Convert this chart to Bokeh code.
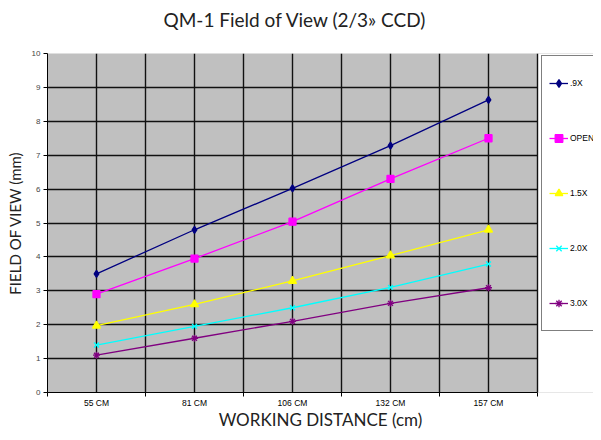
from bokeh.plotting import figure
from bokeh.models import (Range1d, FixedTicker, Legend, LegendItem, BoxAnnotation, Span, Title)
from bokeh.embed import file_html
from bokeh.resources import INLINE

categories = ["55 CM", "81 CM", "106 CM", "132 CM", "157 CM"]
series_names = [".9X", "OPEN", "1.5X", "2.0X", "3.0X"]
s_09x = [3.5, 4.8, 6.02, 7.28, 8.63]
s_open = [2.9, 3.95, 5.04, 6.3, 7.5]
s_15x = [1.97, 2.6, 3.29, 4.04, 4.8]
s_20x = [1.4, 1.95, 2.5, 3.1, 3.79]
s_30x = [1.1, 1.6, 2.1, 2.63, 3.09]
y_ticks = list(range(0, 11))

series_values = [s_09x, s_open, s_15x, s_20x, s_30x]
colors = ["#000080", "#ff00ff", "#ffff00", "#00ffff", "#800080"]
markers = ["diamond", "square", "triangle", "x", "asterisk"]
msizes = [7, 7, 8, 7, 7]

n = len(categories)
xs = [i + 0.5 for i in range(n)]

W, H = 593, 432
LEFT, RIGHT_PLOT, TOP, BOTTOM = 47, 537, 52, 39
# the frame runs to the canvas edge so that the legend box is cut by it;
# the grey plot area itself spans the categories only
x_end = n * (W - LEFT) / (RIGHT_PLOT - LEFT)

p = figure(width=W, height=H, output_backend="svg", toolbar_location=None,
           x_range=Range1d(0, x_end), y_range=Range1d(0, 10),
           min_border_left=LEFT, min_border_right=0, min_border_top=TOP,
           min_border_bottom=BOTTOM, title="QM-1 Field of View (2/3\u00bb CCD)")
p.background_fill_color = "#c0c0c0"
p.border_fill_color = "white"
p.outline_line_color = None

p.title.align = "left"
p.title.offset = 116
p.title.text_font = "Lato"
p.title.text_font_size = "19px"
p.title.text_font_style = "normal"
p.title.text_color = "#222222"
# empty spacer between the title and the plot area
p.add_layout(Title(text=" ", text_font_size="5px"), "above")

# axes
xa = p.xaxis[0]
xa.bounds = (0, n)
xa.ticker = FixedTicker(ticks=xs, minor_ticks=[float(i) for i in range(n + 1)])
xa.major_label_overrides = {x: c for x, c in zip(xs, categories)}
xa.major_tick_out = 0
xa.major_tick_in = 0
xa.minor_tick_out = 4
xa.minor_tick_in = 0
xa.minor_tick_line_color = "black"
xa.axis_line_color = "black"
xa.major_label_text_font = "Liberation Sans"
xa.major_label_text_font_size = "8.5px"
xa.major_label_text_color = "#000000"
xa.major_label_standoff = 1
xa.axis_label = "WORKING DISTANCE (cm)"
xa.axis_label_text_font = "Lato"
xa.axis_label_text_font_size = "17px"
xa.axis_label_text_font_style = "normal"
xa.axis_label_text_color = "#222222"
xa.axis_label_standoff = -2

ya = p.yaxis[0]
ya.ticker = FixedTicker(ticks=y_ticks, minor_ticks=[])
ya.major_tick_out = 4
ya.major_tick_in = 0
ya.minor_tick_out = 0
ya.axis_line_color = "black"
ya.major_tick_line_color = "black"
ya.major_label_text_font = "Liberation Sans"
ya.major_label_text_font_size = "8px"
ya.major_label_standoff = 3
ya.axis_label = "FIELD OF VIEW (mm)"
ya.axis_label_text_font = "Lato"
ya.axis_label_text_font_size = "15px"
ya.axis_label_text_font_style = "normal"
ya.axis_label_text_color = "#222222"
ya.axis_label_standoff = 5

p.xgrid.ticker = FixedTicker(ticks=[i * 0.5 for i in range(2 * n)])
p.xgrid.grid_line_color = "#111111"
p.xgrid.grid_line_width = 1.4
p.ygrid.ticker = FixedTicker(ticks=y_ticks)
p.ygrid.grid_line_color = "#111111"
p.ygrid.grid_line_width = 1.4

# white area to the right of the plot area, and its right edge line
p.add_layout(BoxAnnotation(left=n, fill_color="white", fill_alpha=1,
                           line_color=None, level="underlay"), "center")
p.add_layout(Span(location=n, dimension="height", line_color="#111111",
                  line_width=1.4, level="underlay"), "center")

items = []
for name, vals, col, mk, ms in zip(series_names, series_values, colors, markers, msizes):
    r1 = p.line(xs, vals, line_color=col, line_width=1.3)
    r2 = p.scatter(xs, vals, marker=mk, size=ms, fill_color=col, line_color=col, line_width=1.3)
    items.append(LegendItem(label=name, renderers=[r1, r2]))

legend = Legend(items=items, location=(RIGHT_PLOT + 4 - LEFT, 61), orientation="vertical",
                border_line_color="black", border_line_width=1,
                background_fill_color="white", background_fill_alpha=1,
                padding=7, spacing=15, label_height=40, glyph_height=20,
                glyph_width=19, label_standoff=2, margin=0,
                label_text_font="Liberation Sans", label_text_font_size="8.5px",
                label_text_color="black")
p.add_layout(legend, "center")

open("out.html", "w").write(file_html(p, INLINE))
